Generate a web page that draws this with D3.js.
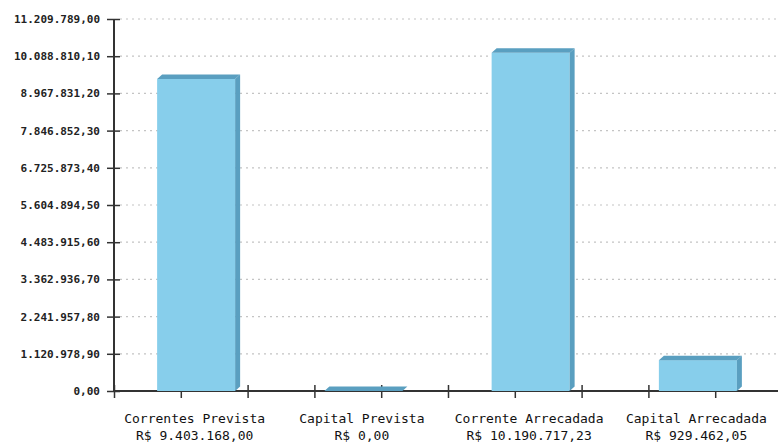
<!DOCTYPE html>
<html>
<head>
<meta charset="utf-8">
<script src="https://cdn.jsdelivr.net/npm/d3@7"></script>
<style>
  body { margin: 0; background: #fff; }
  svg { display: block; }
</style>
</head>
<body>
<svg id="chart" width="778" height="444"></svg>
<script>
// chart data
const categories = ['Correntes Prevista', 'Capital Prevista', 'Corrente Arrecadada', 'Capital Arrecadada'];
const values = [9403168.00, 0, 10190717.23, 929462.05];
const yMax = 11209789.00;
const yTickCount = 10;
const xTickCount = 10;

const br = d3.formatLocale({ decimal: ',', thousands: '.', grouping: [3], currency: ['R$ ', ''] });
const money = br.format(',.2f');

let svg = d3.select('#chart');
let margin = { top: 19, right: 0, bottom: 53, left: 114 };
let height = +svg.attr('height');
let y0 = height - margin.bottom;   // baseline

// scales
const yScale = d3.scaleLinear().domain([0, yMax]).range([y0, margin.top]);
const xBand = d3.scaleBand().domain(categories).range([margin.left, 783]);
const xTick = d3.scaleLinear().domain([0, xTickCount]).range([margin.left, 782]);
const yTicks = d3.range(yTickCount + 1).map(k => yMax * k / yTickCount);

// dotted gridlines
svg.append('g').selectAll('line').data(yTicks.slice(1))
   .join('line')
   .attr('x1', margin.left + 6).attr('x2', 778)
   .attr('y1', d => yScale(d)).attr('y2', d => yScale(d))
   .attr('stroke', '#c4c4c4').attr('stroke-width', 1.2)
   .attr('stroke-dasharray', '2,4');

// x axis (ticks cross the line)
let xAxis = svg.append('g').attr('transform', 'translate(0,' + y0 + ')')
   .call(d3.axisBottom(xTick).tickValues(d3.range(xTickCount)).tickSize(7).tickFormat(''));
xAxis.select('.domain').attr('d', 'M' + margin.left + ',0H778').attr('stroke', '#333').attr('stroke-width', 2);
xAxis.selectAll('.tick line').attr('y1', -6).attr('stroke', '#333').attr('stroke-width', 1.5);

// y axis
let yAxis = svg.append('g').attr('transform', 'translate(' + margin.left + ',0)')
   .call(d3.axisLeft(yScale).tickValues(yTicks).tickSize(7).tickPadding(8).tickFormat(d => money(d)));
yAxis.select('.domain').attr('d', 'M0,' + margin.top + 'V' + y0).attr('stroke', '#333').attr('stroke-width', 2);
yAxis.selectAll('.tick line').attr('x2', -7).attr('x1', 6).attr('stroke', '#333').attr('stroke-width', 1.5);
yAxis.selectAll('.tick text')
   .attr('font-family', 'DejaVu Sans Mono').attr('font-weight', 'bold')
   .attr('font-size', 11).attr('fill', '#222').attr('x', -14);

// 3d bars
const barW = 78, dx = 5, dy = 4.5;
const front = '#87ceeb', dark = '#5a9fc0';
let bars = svg.append('g').selectAll('g').data(categories).join('g');
bars.each(function (c, i) {
    let g = d3.select(this);
    let x = xBand(c) + xBand.bandwidth() / 2 - barW / 2 - 1.5;
    let yv = yScale(values[i]);
    if (values[i] > 0) {
        g.append('rect').attr('x', x).attr('y', yv).attr('width', barW).attr('height', y0 - yv).attr('fill', front);
        g.append('path').attr('fill', dark)
         .attr('d', `M${x + barW},${yv}L${x + barW + dx},${yv - dy}L${x + barW + dx},${y0 - dy}L${x + barW},${y0}Z`);
    }
    g.append('path').attr('fill', dark)
     .attr('d', `M${x},${yv}L${x + dx},${yv - dy}L${x + barW + dx},${yv - dy}L${x + barW},${yv}Z`);
});

// category labels
let labels = svg.append('g').selectAll('text').data(categories).join('text')
   .attr('text-anchor', 'middle')
   .attr('font-family', 'DejaVu Sans Mono').attr('font-size', 13).attr('fill', '#111');
labels.append('tspan').attr('x', c => xBand(c) + xBand.bandwidth() / 2 - 3).attr('y', 423).text(c => c);
labels.append('tspan').attr('x', c => xBand(c) + xBand.bandwidth() / 2 - 3).attr('y', 440)
   .text((c, i) => 'R$ ' + money(values[i]));
</script>
</body>
</html>
